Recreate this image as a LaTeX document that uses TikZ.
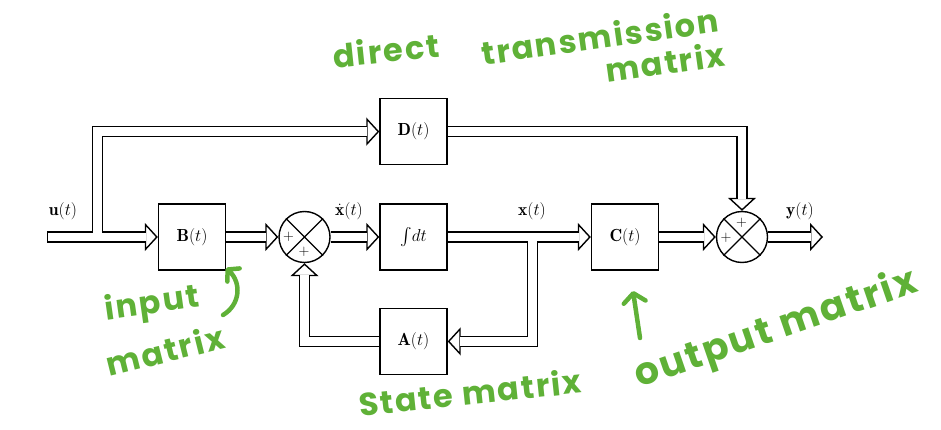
\documentclass[tikz,border=0pt]{standalone}
\usepackage{amsmath}
\usepackage{fontspec}
\newfontfamily\handfont{Poppins}[LetterSpace=6]
\usepackage{tikz}
\usetikzlibrary{arrows.meta, positioning, backgrounds}
\definecolor{notegreen}{RGB}{95,177,55}

\begin{document}
\begin{tikzpicture}[
    x=1pt, y=-1pt,
    node distance=38pt,
    block/.style={rectangle, draw, line width=1.4pt, minimum width=67pt, minimum height=66pt, inner sep=0pt, font=\fontsize{17.5}{20}\selectfont},
    summer/.style={circle, draw, line width=1.4pt, minimum size=51pt, inner sep=0pt},
    sign/.style={inner sep=0pt, font=\fontsize{15}{17}\selectfont},
    signal/.style={anchor=base, inner sep=0pt, font=\fontsize{17.5}{20}\selectfont},
    flow/.style={draw=white, line width=8.6pt, shorten >=12pt,
        preaction={draw=black, line width=11.4pt, shorten >=0pt, shorten <=0pt,
            -{Triangle[length=13pt, width=28pt, line width=1.4pt, fill=white]}}},
    note/.style={text=notegreen, inner sep=0pt, font=\handfont\bfseries\fontsize{32}{36}\selectfont},
    hand/.style={draw=notegreen, line width=4.5pt, line cap=round, line join=round}
]
\useasboundingbox (0,0) rectangle (941,430);

% blocks
\node[block] (B) at (192,237) {$\mathbf{B}(t)$};
\node[summer] (s1) at (304.5,237) {};
\node[block] (int) at (413.5,237) {$\int\! dt$};
\node[block, above=of int] (D) {$\mathbf{D}(t)$};
\node[block, below=37pt of int] (A) {$\mathbf{A}(t)$};
\node[block] (C) at (625,237) {$\mathbf{C}(t)$};
\node[summer] (s2) at (742,237) {};

% summing junctions
\draw[line width=1.2pt] (s1.north west) -- (s1.south east) (s1.north east) -- (s1.south west);
\draw[line width=1.2pt] (s2.north west) -- (s2.south east) (s2.north east) -- (s2.south west);
\node[sign] (s1w) at (288.5,237) {+};
\node[sign] (s1s) at (304,252) {+};
\node[sign] (s2w) at (726,238) {+};
\node[sign] (s2n) at (741.5,223) {+};

% signals
\coordinate (uin) at (47,237);
\coordinate (usplit) at (97.5,237);
\coordinate (xsplit) at (532.5,237);
\coordinate (yout) at (823,237);
\node[signal] (ulab) at (63,216) {$\mathbf{u}(t)$};
\node[signal] (xdlab) at (349,216) {$\dot{\mathbf{x}}(t)$};
\node[signal] (xlab) at (532,216) {$\mathbf{x}(t)$};
\node[signal] (ylab) at (800,216) {$\mathbf{y}(t)$};

\begin{scope}[on background layer]
\draw[flow, shorten <=1.4pt] (uin) -- (usplit) |- (D);
\draw[flow] ([xshift=4.3pt]usplit) -- (B);
\draw[flow] (B) -- (s1);
\draw[flow] (s1) -- (int);
\draw[flow] (int) -- (xsplit) |- (A);
\draw[flow] ([xshift=4.3pt]xsplit) -- (C);
\draw[flow] (A) -| (s1);
\draw[flow] (C) -- (s2);
\draw[flow] (D) -| (s2);
\draw[flow] (s2) -- (yout);
\end{scope}

% handwritten notes
\node[note, rotate=6] (direct) at (386,50) {direct};
\node[note, rotate=8] (trans) at (600,36) {transmission};
\node[note, rotate=8] (tmat) at (665,62) {matrix};
\node[note, rotate=8] (inp) at (152,305) {input};
\node[note, rotate=14] (imat) at (165,350) {matrix};
\node[note, rotate=6] (smat) at (470,392) {State matrix};
\node[note, rotate=19, font=\handfont\bfseries\fontsize{38}{42}\selectfont] (omat) at (776,330) {output matrix};

\coordinate (ihook) at (223,315);
\coordinate (itip) at (226,268);
\draw[hand, -{Straight Barb[round, length=8pt, width=18pt]}] (ihook) .. controls (240,305) and (242,283) .. (itip);
\coordinate (otail) at (640,338);
\coordinate (otip) at (633,291);
\draw[hand, -{Straight Barb[round, length=9pt, width=22pt]}] (otail) -- (otip);
\end{tikzpicture}
\end{document}
